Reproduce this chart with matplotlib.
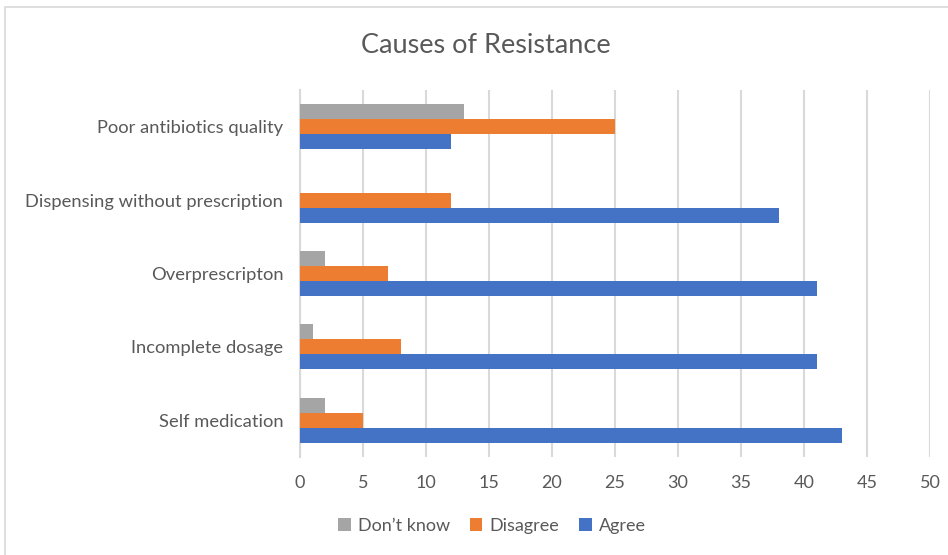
import matplotlib
matplotlib.use("Agg")
import matplotlib.pyplot as plt
import numpy as np
from matplotlib.patches import Rectangle

categories = ["Self medication", "Incomplete dosage", "Overprescripton",
              "Dispensing without prescription", "Poor antibiotics quality"]
agree = [43, 41, 41, 38, 12]
disagree = [5, 8, 7, 12, 25]
dont_know = [2, 1, 2, 0, 13]
xticks = [0, 5, 10, 15, 20, 25, 30, 35, 40, 45, 50]

plt.rcParams['font.family'] = ['Lato', 'DejaVu Sans']
txt = '#595959'

fig = plt.figure(figsize=(9.48, 5.55), dpi=100)
fig.patches.append(Rectangle((5/948, -0.05), 1, 1.05 - 7/555, transform=fig.transFigure,
                             fill=False, edgecolor='#d9d9d9', linewidth=1.2))
ax = fig.add_axes([300/948, 1 - 457/555, 630/948, 367/555])

y = np.arange(len(categories))
h = 0.205
ax.barh(y - h, agree, height=h, color='#4472C4', label='Agree', zorder=3)
ax.barh(y, disagree, height=h, color='#ED7D31', label='Disagree', zorder=3)
ax.barh(y + h, dont_know, height=h, color='#A5A5A5', label="Don\u2019t know", zorder=3)

ax.set_xlim(0, 50)
ax.set_ylim(-0.5, 4.5)
ax.set_xticks(xticks)
ax.set_xticklabels([str(t) for t in xticks], fontsize=13, color=txt)
ax.set_yticks(y)
ax.set_yticklabels(categories, fontsize=13.2, color=txt)
ax.tick_params(axis='both', length=0)
ax.tick_params(axis='x', pad=13)
ax.tick_params(axis='y', pad=12)
ax.grid(axis='x', color='#d9d9d9', linewidth=1.5, zorder=0)
for s in ['top', 'right', 'bottom']:
    ax.spines[s].set_visible(False)
ax.spines['left'].set_color('#d9d9d9')
ax.spines['left'].set_linewidth(1.5)

fig.text(486/948, 1 - 45/555, "Causes of Resistance", ha='center', va='center',
         fontsize=19.5, color=txt)

handles, labels = ax.get_legend_handles_labels()
order = [2, 1, 0]
fig.legend([handles[i] for i in order], [labels[i] for i in order],
           loc='center', bbox_to_anchor=(492/948, 1 - 526/555), ncol=3, frameon=False,
           fontsize=13, labelcolor=txt, handlelength=0.7, handleheight=0.7,
           handletextpad=0.4, columnspacing=1.1)

fig.savefig("out.png", dpi=100)
